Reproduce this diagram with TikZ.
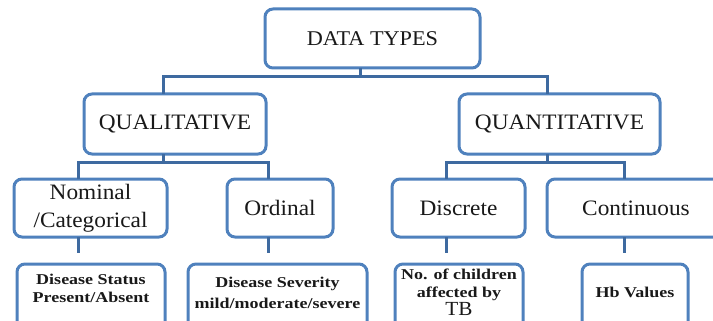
\documentclass[tikz,border=0pt]{standalone}
\usepackage{fontspec}
\setmainfont{Liberation Serif}
\newfontfamily\boxfont{Liberation Serif}[FakeStretch=1.06]
\newfontfamily\leaffont{Liberation Serif}[FakeStretch=1.2]
\usetikzlibrary{calc}
\definecolor{boxblue}{RGB}{79,129,189}
\definecolor{linkblue}{RGB}{62,106,160}

\begin{document}
\begin{tikzpicture}[
            x=1pt, y=-1pt,
            % ----- Styles -----
                box/.style={
                    rectangle, draw=boxblue, line width=3pt,
                    rounded corners=8pt, fill=white, text=black!90,
                    outer sep=0pt, inner sep=2pt, align=center,
                    font=\boxfont\fontsize{22}{28}\selectfont
                },
                leaf/.style={
                    box, anchor=north, text depth=60pt,
                    font=\leaffont\bfseries\fontsize{15}{18}\selectfont
                },
                link/.style={draw=linkblue, line width=3pt},
                gap/.style={link, shorten >=11pt}
            ]

                \useasboundingbox (0,0) rectangle (713,321);
                \clip (0,0) rectangle (713,321);

% ===================== Ebene 1 =================================
                \node[box, minimum width=215pt, minimum height=59pt,
                      font=\boxfont\fontsize{21}{25}\selectfont]
                      (dt) at (372.5, 38.5) {DATA TYPES};

% ===================== Ebene 2 =================================
                \node[box, minimum width=182pt, minimum height=60pt] (qual)  at (175,   124) {QUALITATIVE};
                \node[box, minimum width=201pt, minimum height=60pt] (quant) at (559.5, 124) {QUANTITATIVE};

% ===================== Ebene 3 =================================
                \node[box, minimum width=153pt, minimum height=58pt] (nom)  at (90.5,  208) {Nominal\\/Categorical};
                \node[box, minimum width=106pt, minimum height=58pt] (ord)  at (280,   208) {Ordinal};
                \node[box, minimum width=133pt, minimum height=58pt] (disc) at (458.5, 208) {Discrete};
                \node[box, minimum width=178pt, minimum height=58pt] (cont) at (636,   208) {Continuous};

% ===================== Beispiele (unten abgeschnitten) =========
                \node[leaf, minimum width=148pt, inner ysep=9.7pt] (stat) at (91,    264)
                      {Disease Status\\Present/Absent};
                \node[leaf, minimum width=179pt, inner ysep=12.7pt,
                      font=\leaffont\bfseries\fontsize{15}{21}\selectfont] (sev) at (277.5, 264)
                      {Disease Severity\\mild/moderate/severe};
                \node[leaf, minimum width=128pt, inner ysep=4.7pt] (tb) at (459,   264)
                      {No. of children\\affected by\\{\boxfont\mdseries\fontsize{20}{18}\selectfont TB}};
                \node[leaf, minimum width=106pt, inner ysep=22.7pt] (hb) at (635,   264)
                      {Hb Values};

% ===================== Verbindungen ============================
                \draw[link] ([xshift=-12pt]dt.south) -- ++(0,9) -| ([xshift=-12pt]qual.north);
                \draw[link] ([xshift=-12pt]dt.south) -- ++(0,9) -| ([xshift=-12pt]quant.north);

                \draw[link] ([xshift=-12pt]qual.south) -- ++(0,8) -| ([xshift=-12pt]nom.north);
                \draw[link] ([xshift=-12pt]qual.south) -- ++(0,8) -| ([xshift=-12pt]ord.north);
                \draw[link] ([xshift=-12pt]quant.south) -- ++(0,8) -| ([xshift=-12pt]disc.north);
                \draw[link] ([xshift=-12pt]quant.south) -- ++(0,8) -| ([xshift=-12pt]cont.north);

% Ebene 3 -> Beispiele: Linie endet kurz vor dem Kasten
                \draw[gap] ([xshift=-12pt]nom.south)  -- ([xshift=-12pt]nom.south  |- stat.north);
                \draw[gap] ([xshift=-12pt]ord.south)  -- ([xshift=-12pt]ord.south  |- sev.north);
                \draw[gap] ([xshift=-12pt]disc.south) -- ([xshift=-12pt]disc.south |- tb.north);
                \draw[gap] ([xshift=-12pt]cont.south) -- ([xshift=-12pt]cont.south |- hb.north);

            \end{tikzpicture}
\end{document}
